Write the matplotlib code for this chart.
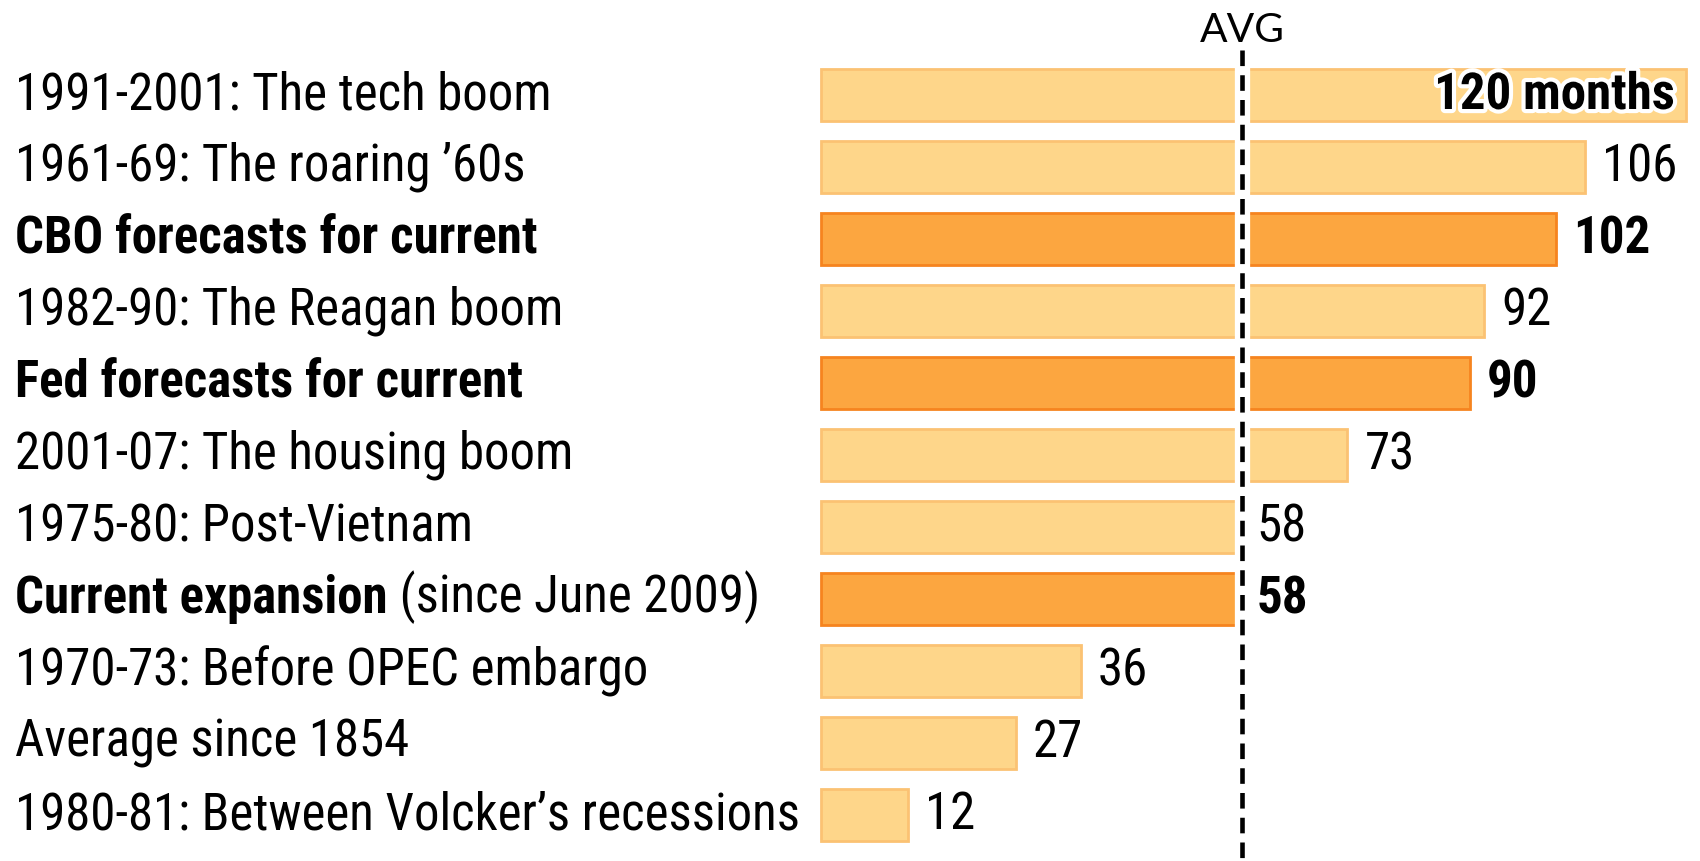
import matplotlib.pyplot as plt
import matplotlib.patheffects as pe
from matplotlib import font_manager
from matplotlib.font_manager import FontProperties
from matplotlib.transforms import blended_transform_factory

# Daten (Monate je Aufschwung)
labels = [
    "1991-2001: The tech boom",
    "1961-69: The roaring \u201960s",
    "CBO forecasts for current",
    "1982-90: The Reagan boom",
    "Fed forecasts for current",
    "2001-07: The housing boom",
    "1975-80: Post-Vietnam",
    "Current expansion",
    "1970-73: Before OPEC embargo",
    "Average since 1854",
    "1980-81: Between Volcker\u2019s recessions",
]
months = [120, 106, 102, 92, 90, 73, 58, 58, 36, 27, 12]
highlight = [False, False, True, False, True, False, False, True, False, False, False]
value_texts = ["120 months", "106", "102", "92", "90", "73", "58", "58", "36", "27", "12"]
label_suffix = {7: " (since June 2009)"}
avg_months = 58.4


def pick_fonts():
    """Schmale Schrift suchen (regular + bold), sonst Fallback"""
    groups = {}
    for f in font_manager.fontManager.ttflist:
        narrow = ("condensed" in str(f.stretch) or "Narrow" in f.name
                  or "Condensed" in f.name)
        if not narrow or f.style != "normal":
            continue
        w = f.weight if isinstance(f.weight, int) else (700 if "bold" in str(f.weight) else 400)
        groups.setdefault(f.name, {})
        if w in (400, 700) and w not in groups[f.name]:
            groups[f.name][w] = f.fname
    prefs = ["Liberation Sans Narrow", "Roboto Condensed", "Open Sans Condensed",
             "Noto Sans Condensed", "DejaVu Sans"]
    names = sorted(groups, key=lambda n: prefs.index(n) if n in prefs else 99)
    for n in names:
        if 400 in groups[n] and 700 in groups[n]:
            return FontProperties(fname=groups[n][400]), FontProperties(fname=groups[n][700])
    return (FontProperties(family="Liberation Sans"),
            FontProperties(family="Liberation Sans", weight="bold"))


FP_REG, FP_BOLD = pick_fonts()

LIGHT_FILL, LIGHT_EDGE = "#FED68A", "#FBC273"
DARK_FILL, DARK_EDGE = "#FCA640", "#F6841F"

W, H = 1700, 861
fig = plt.figure(figsize=(W / 100, H / 100), dpi=100)
ax = fig.add_axes([0, 0, 1, 1])

# Schriftgroesse so waehlen, dass die laengste Beschriftung ~785 px breit ist
renderer = fig.canvas.get_renderer()
probe = fig.text(0, 0, labels[-1], fontproperties=FP_REG, fontsize=30)
probe_w = probe.get_window_extent(renderer).width
probe.remove()
FS = min(38, 30 * 785 / probe_w)
FP_REG.set_size(FS)
FP_BOLD.set_size(FS)

# Pixel-Geometrie: 0 Monate bei x=821, 120 Monate bei x=1686
px_per_month = (1686 - 821) / 120
row_px = 72
first_row_px = 95
ax.set_xlim(-821 / px_per_month, (W - 821) / px_per_month)
ax.set_ylim((H - first_row_px) / row_px, -first_row_px / row_px)
ax.axis("off")

rows = list(range(len(months)))
fills = [DARK_FILL if h else LIGHT_FILL for h in highlight]
edges = [DARK_EDGE if h else LIGHT_EDGE for h in highlight]
ax.barh(rows, months, height=0.72, color=fills, edgecolor=edges, linewidth=2, zorder=2)

# AVG-Linie mit weisser Luecke
ax.plot([avg_months, avg_months], [-0.62, 20], color="white", lw=11, zorder=3,
        solid_capstyle="butt")
ax.plot([avg_months, avg_months], [-0.62, 20], color="black", lw=3.3, zorder=4,
        dashes=(3.4, 2.0))
ax.text(avg_months, -0.9, "AVG", ha="center", va="center", family=["Lato", "DejaVu Sans"],
        fontsize=FS * 0.8, color="black")

lab_tf = blended_transform_factory(fig.transFigure, ax.transData)
for i, (lab, m, hl, vt) in enumerate(zip(labels, months, highlight, value_texts)):
    fp = FP_BOLD if hl else FP_REG
    t = ax.text(15 / W, i, lab, transform=lab_tf, ha="left", va="center",
                fontproperties=fp, color="black")
    if i in label_suffix:
        ax.annotate(label_suffix[i], xy=(1, 0), xycoords=t, ha="left", va="bottom",
                    fontproperties=FP_REG, color="black")
    if i == 0:
        ax.text(m - 1.5, i, vt, ha="right", va="center", fontproperties=FP_BOLD,
                color="black", zorder=5,
                path_effects=[pe.withStroke(linewidth=6, foreground="white")])
    else:
        ax.text(m + 2.4, i, vt, ha="left", va="center", fontproperties=fp,
                color="black", zorder=5)

fig.savefig("out.png", dpi=100, facecolor="white")
